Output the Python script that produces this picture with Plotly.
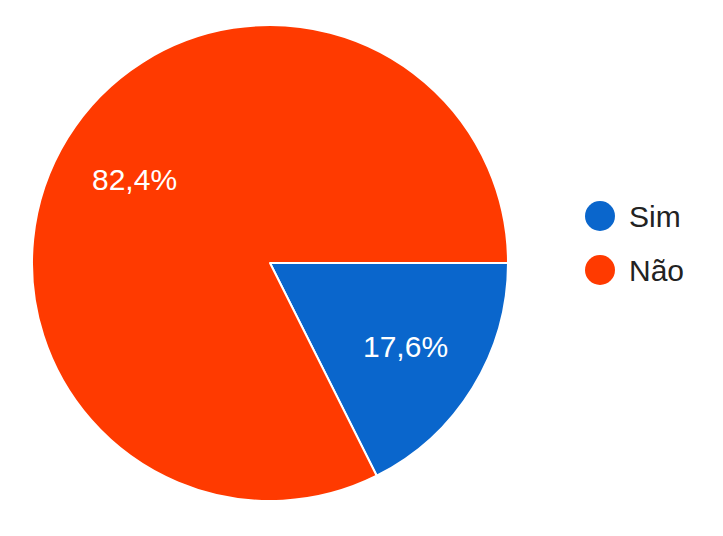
import math
import plotly.graph_objects as go

categories = ["Sim", "Não"]
values = [17.6, 82.4]
labels_txt = ["17,6%", "82,4%"]
colors = ["#0A66CC", "#FF3A00"]

W, H = 723, 536
cx, cy, r = 270, 263, 238
FONT = "Liberation Sans, Arial, sans-serif"

fig = go.Figure()
fig.add_trace(go.Pie(
    labels=categories,
    values=values,
    sort=False,
    direction="clockwise",
    rotation=90,
    marker=dict(colors=colors, line=dict(color="white", width=2)),
    textinfo="none",
    showlegend=False,
    domain=dict(x=[(cx - r) / W, (cx + r) / W], y=[1 - (cy + r) / H, 1 - (cy - r) / H]),
    hoverinfo="label+percent",
))

# slice labels placed along each slice's mid-angle
total = sum(values)
start = 0.0  # degrees clockwise from 3 o'clock
for v, t in zip(values, labels_txt):
    mid = start + v / total * 360 / 2
    start += v / total * 360
    a = math.radians(mid)
    px = cx + 0.67 * r * math.cos(a)
    py = cy + 0.67 * r * math.sin(a)
    fig.add_annotation(xref="paper", yref="paper", x=px / W, y=1 - py / H,
                       text=t, showarrow=False, xanchor="center", yanchor="middle",
                       font=dict(family=FONT, size=30, color="white"))

# manual legend
leg_x, leg_y0, leg_dy, rad = 600, 216, 54, 15
for i, (cat, col) in enumerate(zip(categories, colors)):
    yc = leg_y0 + i * leg_dy
    fig.add_shape(type="circle", xref="paper", yref="paper",
                  x0=(leg_x - rad) / W, x1=(leg_x + rad) / W,
                  y0=1 - (yc + rad) / H, y1=1 - (yc - rad) / H,
                  fillcolor=col, line=dict(width=0))
    fig.add_annotation(xref="paper", yref="paper", x=627 / W, y=1 - yc / H,
                       text=cat, showarrow=False, xanchor="left", yanchor="middle",
                       font=dict(family=FONT, size=30, color="#222222"))

fig.update_layout(
    width=W, height=H,
    margin=dict(l=0, r=0, t=0, b=0),
    paper_bgcolor="white",
    plot_bgcolor="white",
    separators=",.",
)
fig.write_html("out.html", config={"displayModeBar": False},
               post_script="document.body.style.margin='0';")
